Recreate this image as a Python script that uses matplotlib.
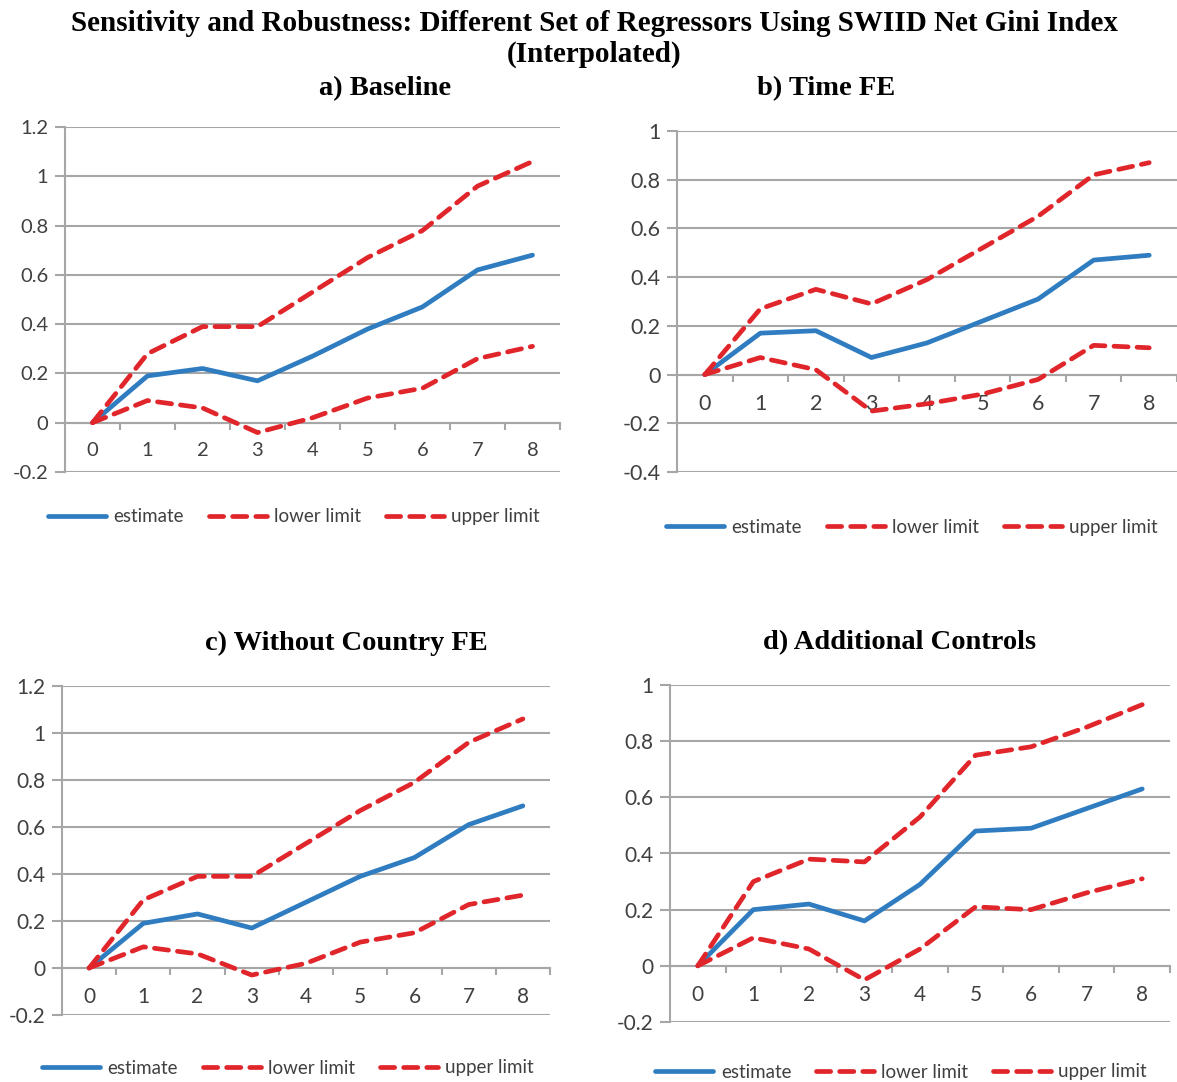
import matplotlib.pyplot as plt
from matplotlib.ticker import MultipleLocator

# horizons 0..8
horizon = [0, 1, 2, 3, 4, 5, 6, 7, 8]

# a) Baseline
a_est = [0, 0.19, 0.22, 0.17, 0.27, 0.38, 0.47, 0.62, 0.68]
a_low = [0, 0.09, 0.06, -0.04, 0.02, 0.10, 0.14, 0.26, 0.31]
a_up = [0, 0.28, 0.39, 0.39, 0.53, 0.67, 0.78, 0.96, 1.06]

# b) Time FE
b_est = [0, 0.17, 0.18, 0.07, 0.13, 0.22, 0.31, 0.47, 0.49]
b_low = [0, 0.07, 0.02, -0.15, -0.12, -0.08, -0.02, 0.12, 0.11]
b_up = [0, 0.27, 0.35, 0.29, 0.39, 0.52, 0.65, 0.82, 0.87]

# c) Without Country FE
c_est = [0, 0.19, 0.23, 0.17, 0.28, 0.39, 0.47, 0.61, 0.69]
c_low = [0, 0.09, 0.06, -0.03, 0.02, 0.11, 0.15, 0.27, 0.31]
c_up = [0, 0.29, 0.39, 0.39, 0.53, 0.67, 0.79, 0.96, 1.06]

# d) Additional Controls
d_est = [0, 0.20, 0.22, 0.16, 0.29, 0.48, 0.49, 0.56, 0.63]
d_low = [0, 0.10, 0.06, -0.05, 0.06, 0.21, 0.20, 0.26, 0.31]
d_up = [0, 0.30, 0.38, 0.37, 0.53, 0.75, 0.78, 0.85, 0.93]

titles = ["a) Baseline", "b) Time FE", "c) Without Country FE", "d) Additional Controls"]
ylims = [(-0.2, 1.2), (-0.4, 1.0), (-0.2, 1.2), (-0.2, 1.0)]

BLUE = "#2f7dc0"
RED = "#e0262b"
GRID = "#a6a6a6"
TXT = "#404040"

W, H = 1177, 1082
fig = plt.figure(figsize=(W / 100, H / 100), dpi=100)


def px_axes(l, r, t, b):
    return fig.add_axes([l / W, 1 - b / H, (r - l) / W, (b - t) / H])


# pixel boxes: left, right, top, bottom
boxes = [(65, 560, 127, 472), (677, 1177, 131, 472),
         (62, 550, 686, 1015), (670, 1170, 685, 1022)]
title_pos = [(385, 89), (826, 89), (346, 643), (900, 643)]
legend_pos = [(294, 517), (912, 527), (288, 1068), (901, 1072)]
tick_sz = [14.5, 15.5, 15, 15]
leg_sz = [13.5, 13.5, 13.5, 13.5]

data = [(a_est, a_low, a_up), (b_est, b_low, b_up),
        (c_est, c_low, c_up), (d_est, d_low, d_up)]

for i, (est, low, up) in enumerate(data):
    ax = px_axes(*boxes[i])
    fs = tick_sz[i]
    ax.plot(horizon, est, color=BLUE, lw=3.4, solid_capstyle="round", label="estimate", zorder=3)
    ax.plot(horizon, low, color=RED, lw=3.4, dashes=(3.0, 1.9), dash_capstyle="round",
            label="lower limit", zorder=3)
    ax.plot(horizon, up, color=RED, lw=3.4, dashes=(3.0, 1.9), dash_capstyle="round",
            label="upper limit", zorder=3)

    ax.set_xlim(-0.5, 8.5)
    ax.set_ylim(*ylims[i])
    ax.yaxis.set_major_locator(MultipleLocator(0.2))
    ax.yaxis.set_major_formatter(plt.FuncFormatter(lambda v, p: f"{v:.1f}".rstrip("0").rstrip(".") if abs(v) > 1e-9 else "0"))
    ax.grid(axis="y", color=GRID, lw=1.5, zorder=1)
    ax.set_axisbelow(True)

    for s in ["top", "right"]:
        ax.spines[s].set_visible(False)
    ax.spines["left"].set_color(GRID)
    ax.spines["left"].set_linewidth(1.5)
    ax.spines["bottom"].set_position(("data", 0))
    ax.spines["bottom"].set_color(GRID)
    ax.spines["bottom"].set_linewidth(1.5)

    ax.set_xticks(horizon)
    ax.set_xticks([h + 0.5 for h in horizon], minor=True)
    ax.tick_params(axis="x", which="major", length=0, pad=14, labelsize=fs, labelcolor=TXT)
    ax.tick_params(axis="x", which="minor", length=5, width=1.5, color=GRID, direction="out")
    ax.tick_params(axis="y", length=7, width=1.5, color=GRID, labelsize=fs, labelcolor=TXT, pad=5)
    for lab in ax.get_xticklabels() + ax.get_yticklabels():
        lab.set_family("Lato")

    tx, ty = title_pos[i]
    fig.text(tx / W, 1 - ty / H, titles[i], ha="center", va="center",
             family="Liberation Serif", weight="bold", fontsize=20.5)

    lx, ly = legend_pos[i]
    ax.legend(loc="center", bbox_to_anchor=(lx / W, 1 - ly / H), bbox_transform=fig.transFigure,
              ncol=3, frameon=False, handlelength=3.1, handletextpad=0.4, columnspacing=1.3,
              prop={"family": "Lato", "size": leg_sz[i]}, labelcolor=TXT)

fig.text(0.505, 1 - 39 / H,
         "Sensitivity and Robustness: Different Set of Regressors Using SWIID Net Gini Index\n(Interpolated)",
         ha="center", va="center", family="Liberation Serif", weight="bold", fontsize=21,
         linespacing=1.2)

fig.savefig("out.png", dpi=100)
